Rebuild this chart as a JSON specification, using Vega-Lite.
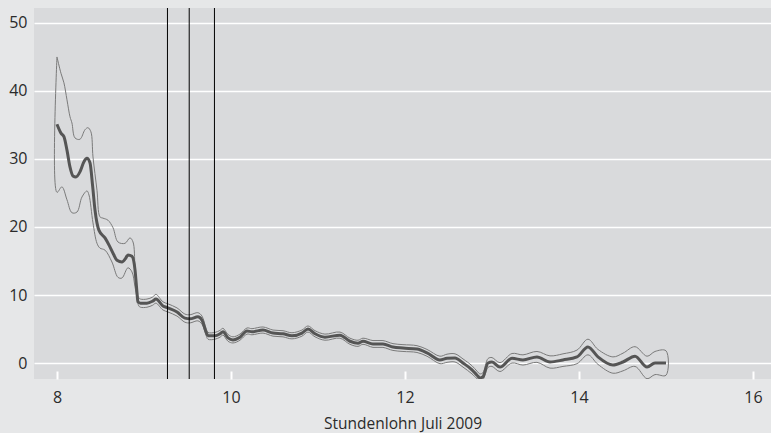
{
  "$schema": "https://vega.github.io/schema/vega-lite/v6.json",
  "width": 737,
  "height": 371,
  "autosize": {"type": "none"},
  "padding": {"left": 34, "top": 8, "right": 0, "bottom": 54},
  "background": "#e6e7e8",
  "config": {"view": {"fill": "#d9dadc", "stroke": null}, "font": "Open Sans"},
  "datasets": {
    "mean": [
      {"x":8.0,"y":35.1},{"x":8.046,"y":33.8},{"x":8.08,"y":33.3},{"x":8.115,"y":31.3},{"x":8.15,"y":28.8},{"x":8.184,"y":27.5},{"x":8.218,"y":27.35},{"x":8.264,"y":28.1},{"x":8.31,"y":29.6},{"x":8.345,"y":30.1},{"x":8.38,"y":29.4},{"x":8.41,"y":26.0},{"x":8.437,"y":22.5},{"x":8.483,"y":19.5},{"x":8.552,"y":18.4},{"x":8.6,"y":17.3},{"x":8.65,"y":16.0},{"x":8.69,"y":15.1},{"x":8.747,"y":14.85},{"x":8.79,"y":15.4},{"x":8.816,"y":15.9},{"x":8.862,"y":15.7},{"x":8.897,"y":13.7},{"x":8.92,"y":10.3},{"x":8.93,"y":9.0},{"x":8.96,"y":8.8},{"x":9.034,"y":8.8},{"x":9.1,"y":9.1},{"x":9.138,"y":9.4},{"x":9.218,"y":8.4},{"x":9.276,"y":8.1},{"x":9.38,"y":7.5},{"x":9.47,"y":6.6},{"x":9.53,"y":6.5},{"x":9.62,"y":6.8},{"x":9.667,"y":6.3},{"x":9.713,"y":4.6},{"x":9.736,"y":4.0},{"x":9.816,"y":4.0},{"x":9.874,"y":4.3},{"x":9.908,"y":4.6},{"x":9.966,"y":3.7},{"x":10.023,"y":3.4},{"x":10.103,"y":3.8},{"x":10.184,"y":4.7},{"x":10.241,"y":4.6},{"x":10.368,"y":4.85},{"x":10.483,"y":4.4},{"x":10.598,"y":4.3},{"x":10.701,"y":4.0},{"x":10.816,"y":4.4},{"x":10.885,"y":5.0},{"x":10.966,"y":4.3},{"x":11.08,"y":3.8},{"x":11.253,"y":4.1},{"x":11.368,"y":3.2},{"x":11.46,"y":2.9},{"x":11.517,"y":3.2},{"x":11.632,"y":2.8},{"x":11.747,"y":2.8},{"x":11.862,"y":2.35},{"x":11.977,"y":2.2},{"x":12.138,"y":2.05},{"x":12.253,"y":1.5},{"x":12.402,"y":0.45},{"x":12.483,"y":0.7},{"x":12.575,"y":0.75},{"x":12.667,"y":0},{"x":12.77,"y":-1.0},{"x":12.828,"y":-1.8},{"x":12.862,"y":-2.2},{"x":12.897,"y":-2.0},{"x":12.954,"y":0},{"x":13.0,"y":0.15},{"x":13.092,"y":-0.6},{"x":13.23,"y":0.7},{"x":13.356,"y":0.45},{"x":13.517,"y":0.9},{"x":13.667,"y":0.15},{"x":13.816,"y":0.45},{"x":13.977,"y":0.9},{"x":14.103,"y":2.35},{"x":14.218,"y":0.9},{"x":14.39,"y":-0.3},{"x":14.506,"y":0.15},{"x":14.644,"y":1.0},{"x":14.782,"y":-0.6},{"x":14.874,"y":0},{"x":15.0,"y":0}
    ],
    "band": [
      {"x":8.0,"y":45,"o":1},{"x":8.046,"y":42.6,"o":2},{"x":8.08,"y":41.2,"o":3},{"x":8.115,"y":38.7,"o":4},{"x":8.15,"y":36.2,"o":5},{"x":8.172,"y":35.3,"o":6},{"x":8.207,"y":33.1,"o":7},{"x":8.264,"y":32.9,"o":8},{"x":8.322,"y":34.3,"o":9},{"x":8.356,"y":34.6,"o":10},{"x":8.39,"y":34.0,"o":11},{"x":8.414,"y":30.3,"o":12},{"x":8.46,"y":25.4,"o":13},{"x":8.494,"y":21.5,"o":14},{"x":8.529,"y":21.3,"o":15},{"x":8.586,"y":21.0,"o":16},{"x":8.644,"y":19.9,"o":17},{"x":8.701,"y":17.8,"o":18},{"x":8.782,"y":17.6,"o":19},{"x":8.839,"y":18.4,"o":20},{"x":8.874,"y":17.8,"o":21},{"x":8.897,"y":14.1,"o":22},{"x":8.92,"y":10.3,"o":23},{"x":8.94,"y":9.6,"o":24},
      {"x":8.96,"y":9.4,"o":25},{"x":9.034,"y":9.4,"o":26},{"x":9.1,"y":9.7,"o":27},{"x":9.138,"y":10.1,"o":28},{"x":9.218,"y":9.0,"o":29},{"x":9.276,"y":8.7,"o":30},{"x":9.38,"y":8.1,"o":31},{"x":9.47,"y":7.2,"o":32},{"x":9.53,"y":7.1,"o":33},{"x":9.62,"y":7.4,"o":34},{"x":9.667,"y":6.9,"o":35},{"x":9.713,"y":5.1,"o":36},{"x":9.736,"y":4.5,"o":37},{"x":9.816,"y":4.5,"o":38},{"x":9.874,"y":4.8,"o":39},{"x":9.908,"y":5.1,"o":40},{"x":9.966,"y":4.2,"o":41},
      {"x":10.023,"y":3.85,"o":42},{"x":10.103,"y":4.25,"o":43},{"x":10.184,"y":5.15,"o":44},{"x":10.241,"y":5.05,"o":45},{"x":10.368,"y":5.3,"o":46},{"x":10.483,"y":4.85,"o":47},{"x":10.598,"y":4.75,"o":48},{"x":10.701,"y":4.45,"o":49},{"x":10.816,"y":4.85,"o":50},{"x":10.885,"y":5.45,"o":51},{"x":10.966,"y":4.75,"o":52},
      {"x":11.08,"y":4.25,"o":53},{"x":11.253,"y":4.55,"o":54},{"x":11.368,"y":3.65,"o":55},{"x":11.46,"y":3.35,"o":56},{"x":11.517,"y":3.65,"o":57},{"x":11.632,"y":3.3,"o":58},{"x":11.747,"y":3.3,"o":59},{"x":11.862,"y":2.85,"o":60},{"x":11.977,"y":2.7,"o":61},
      {"x":12.138,"y":2.55,"o":62},{"x":12.253,"y":2.0,"o":63},{"x":12.402,"y":1.0,"o":64},{"x":12.483,"y":1.3,"o":65},{"x":12.575,"y":1.35,"o":66},{"x":12.667,"y":0.6,"o":67},{"x":12.77,"y":-0.4,"o":68},{"x":12.828,"y":-1.2,"o":69},{"x":12.862,"y":-1.6,"o":70},{"x":12.897,"y":-1.4,"o":71},{"x":12.954,"y":0.65,"o":72},
      {"x":13.0,"y":0.8,"o":73},{"x":13.092,"y":0.05,"o":74},{"x":13.23,"y":1.4,"o":75},{"x":13.356,"y":1.2,"o":76},{"x":13.517,"y":1.7,"o":77},{"x":13.667,"y":1.05,"o":78},{"x":13.816,"y":1.35,"o":79},{"x":13.977,"y":1.9,"o":80},
      {"x":14.103,"y":3.5,"o":81},{"x":14.218,"y":2.0,"o":82},{"x":14.39,"y":0.9,"o":83},{"x":14.506,"y":1.45,"o":84},{"x":14.644,"y":2.4,"o":85},{"x":14.782,"y":1.0,"o":86},{"x":14.874,"y":1.7,"o":87},{"x":15.0,"y":1.8,"o":88},
      {"x":15.0,"y":-1.8,"o":101},{"x":14.874,"y":-1.7,"o":102},{"x":14.782,"y":-2.3,"o":103},{"x":14.644,"y":-0.5,"o":104},{"x":14.506,"y":-1.15,"o":105},{"x":14.39,"y":-1.5,"o":106},{"x":14.218,"y":-0.2,"o":107},{"x":14.103,"y":1.2,"o":108},
      {"x":13.977,"y":-0.1,"o":109},{"x":13.816,"y":-0.5,"o":110},{"x":13.667,"y":-0.75,"o":111},{"x":13.517,"y":0.1,"o":112},{"x":13.356,"y":-0.3,"o":113},{"x":13.23,"y":0.0,"o":114},{"x":13.092,"y":-1.25,"o":115},{"x":13.0,"y":-0.5,"o":116},
      {"x":12.954,"y":-0.65,"o":117},{"x":12.897,"y":-2.4,"o":118},{"x":12.862,"y":-2.5,"o":119},{"x":12.828,"y":-2.3,"o":120},{"x":12.77,"y":-1.6,"o":121},{"x":12.667,"y":-0.6,"o":122},{"x":12.575,"y":0.15,"o":123},{"x":12.483,"y":0.1,"o":124},{"x":12.402,"y":-0.1,"o":125},{"x":12.253,"y":1.0,"o":126},{"x":12.138,"y":1.55,"o":127},
      {"x":11.977,"y":1.7,"o":128},{"x":11.862,"y":1.85,"o":129},{"x":11.747,"y":2.3,"o":130},{"x":11.632,"y":2.3,"o":131},{"x":11.517,"y":2.75,"o":132},{"x":11.46,"y":2.45,"o":133},{"x":11.368,"y":2.75,"o":134},{"x":11.253,"y":3.65,"o":135},{"x":11.08,"y":3.35,"o":136},
      {"x":10.966,"y":3.85,"o":137},{"x":10.885,"y":4.55,"o":138},{"x":10.816,"y":3.95,"o":139},{"x":10.701,"y":3.55,"o":140},{"x":10.598,"y":3.85,"o":141},{"x":10.483,"y":3.95,"o":142},{"x":10.368,"y":4.4,"o":143},{"x":10.241,"y":4.15,"o":144},{"x":10.184,"y":4.25,"o":145},{"x":10.103,"y":3.35,"o":146},{"x":10.023,"y":2.95,"o":147},
      {"x":9.966,"y":3.2,"o":148},{"x":9.908,"y":4.1,"o":149},{"x":9.874,"y":3.8,"o":150},{"x":9.816,"y":3.5,"o":151},{"x":9.736,"y":3.5,"o":152},{"x":9.713,"y":4.1,"o":153},{"x":9.667,"y":5.7,"o":154},{"x":9.62,"y":6.2,"o":155},{"x":9.53,"y":5.9,"o":156},{"x":9.47,"y":6.0,"o":157},{"x":9.38,"y":6.9,"o":158},{"x":9.276,"y":7.5,"o":159},{"x":9.218,"y":7.8,"o":160},{"x":9.138,"y":8.8,"o":161},{"x":9.1,"y":8.5,"o":162},{"x":9.034,"y":8.2,"o":163},{"x":8.96,"y":8.2,"o":164},
      {"x":8.94,"y":8.4,"o":165},{"x":8.92,"y":9.6,"o":166},{"x":8.897,"y":11.2,"o":167},{"x":8.862,"y":13.4,"o":168},{"x":8.816,"y":14.0,"o":169},{"x":8.747,"y":12.5,"o":170},{"x":8.701,"y":12.6,"o":171},{"x":8.632,"y":14.85,"o":172},{"x":8.552,"y":16.6,"o":173},{"x":8.494,"y":16.9,"o":174},{"x":8.46,"y":17.6,"o":175},{"x":8.414,"y":20.6,"o":176},{"x":8.368,"y":24.7,"o":177},{"x":8.345,"y":25.3,"o":178},{"x":8.287,"y":24.4,"o":179},{"x":8.23,"y":22.2,"o":180},{"x":8.172,"y":22.1,"o":181},{"x":8.115,"y":24.0,"o":182},{"x":8.057,"y":25.9,"o":183},{"x":8.0,"y":25.1,"o":184},{"x":8.0,"y":45,"o":185}
    ],
    "vlines": [{"x":9.27},{"x":9.52},{"x":9.81}]
  },
  "layer": [
    {
      "data": {"name": "band"},
      "mark": {"type": "line", "color": "#7a7a7a", "strokeWidth": 1, "interpolate": "catmull-rom", "clip": true},
      "encoding": {
        "x": {"field": "x", "type": "quantitative",
          "scale": {"domain": [7.736, 16.207], "nice": false, "zero": false},
          "axis": {"title": "Stundenlohn Juli 2009", "values": [8,10,12,14,16], "format": "d", "grid": false, "domain": false,
            "offset": -8, "ticks": true, "tickColor": "#ffffff", "tickWidth": 2, "tickSize": 8,
            "labelPadding": 10, "labelFontSize": 16, "labelColor": "#2b2b2b",
            "titleFontSize": 15.5, "titleFontWeight": "normal", "titleColor": "#2b2b2b", "titlePadding": 11}},
        "y": {"field": "y", "type": "quantitative",
          "scale": {"domain": [-2.35, 52.2], "nice": false, "zero": false},
          "axis": {"title": null, "values": [0,10,20,30,40,50], "grid": true, "gridColor": "#ffffff", "gridWidth": 1.5,
            "domain": false, "ticks": false, "labelPadding": 7, "labelFontSize": 16, "labelColor": "#2b2b2b"}},
        "order": {"field": "o", "type": "quantitative"}
      }
    },
    {
      "data": {"name": "mean"},
      "mark": {"type": "line", "color": "#555555", "strokeWidth": 3, "interpolate": "monotone", "clip": true},
      "encoding": {
        "x": {"field": "x", "type": "quantitative"},
        "y": {"field": "y", "type": "quantitative"}
      }
    },
    {
      "data": {"name": "vlines"},
      "mark": {"type": "rule", "color": "#000000", "strokeWidth": 1},
      "encoding": {
        "x": {"field": "x", "type": "quantitative"}
      }
    }
  ]
}
